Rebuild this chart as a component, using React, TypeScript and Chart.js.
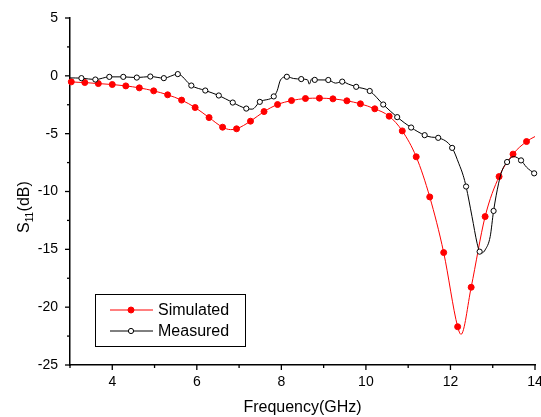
import { useEffect, useRef } from 'react';
import { Chart, registerables } from 'chart.js';

Chart.register(...registerables);

// ---- data ----
const xMin = 3;
const xMax = 14;
const yMin = -25;
const yMax = 5;
const xMajorTicks = [4, 6, 8, 10, 12, 14];
const yMajorTicks = [5, 0, -5, -10, -15, -20, -25];

// Simulated (red, filled markers)
const simulatedFreq = [
  3.03, 3.35, 3.67, 4.0, 4.32, 4.64, 4.98, 5.31, 5.64, 5.96, 6.29, 6.61, 6.94, 7.27, 7.59,
  7.91, 8.24, 8.57, 8.9, 9.22, 9.55, 9.87, 10.21, 10.55, 10.86, 11.19, 11.51, 11.84, 12.17,
  12.49, 12.82, 13.15, 13.48, 13.8,
];
const simulatedDb = [
  -0.52, -0.58, -0.67, -0.75, -0.87, -1.04, -1.3, -1.64, -2.1, -2.74, -3.61, -4.44, -4.58,
  -3.92, -3.09, -2.48, -2.14, -1.96, -1.93, -1.99, -2.16, -2.42, -2.85, -3.49, -4.76, -7.0,
  -10.47, -15.28, -21.69, -18.28, -12.17, -8.71, -6.77, -5.68,
];
// points of the simulated curve between markers
const simulatedCurveFreq = [3.0, 6.8, 12.25, 14.0, 14.14];
const simulatedCurveDb = [-0.5, -4.65, -22.35, -5.25, -5.0];

// Measured (black, open markers)
const measuredFreq = [
  3.27, 3.6, 3.93, 4.26, 4.58, 4.9, 5.22, 5.55, 5.87, 6.2, 6.52, 6.85, 7.17, 7.49, 7.82,
  8.13, 8.47, 8.79, 9.11, 9.44, 9.77, 10.09, 10.41, 10.74, 11.07, 11.39, 11.71, 12.04, 12.37,
  12.69, 13.02, 13.34, 13.67, 13.98,
];
const measuredDb = [
  -0.2, -0.32, -0.09, -0.09, -0.15, -0.06, -0.2, 0.15, -0.84, -1.27, -1.7, -2.31, -2.83,
  -2.25, -1.78, -0.08, -0.28, -0.35, -0.36, -0.5, -0.95, -1.31, -2.48, -3.57, -4.47, -5.13,
  -5.36, -6.23, -9.57, -15.2, -11.68, -7.45, -7.31, -8.43,
];
// points of the measured curve between markers
const measuredCurveFreq = [
  3.0, 7.31, 7.9, 7.98, 8.29, 8.62, 8.66, 8.72, 9.28, 9.59, 11.55, 12.2, 12.3, 12.51, 12.63,
  12.75, 12.82, 12.94, 13.14, 13.22, 13.49, 13.8,
];
const measuredCurveDb = [
  -0.18, -2.88, -1.3, -0.35, -0.23, -0.35, -0.72, -0.25, -0.63, -0.72, -5.3, -7.6, -8.6,
  -12.17, -14.47, -15.3, -15.05, -13.9, -9.28, -8.2, -6.98, -7.9,
];

const seriesNames = ['Simulated', 'Measured'];
const seriesColors = ['#ff0000', '#000000'];

const FONT = '"Liberation Sans", Arial, Helvetica, sans-serif';

type Pt = { x: number; y: number; m: boolean };

function buildCurve(mf: number[], mv: number[], cf: number[], cv: number[]): Pt[] {
  const pts: Pt[] = [];
  mf.forEach((f, i) => pts.push({ x: f, y: mv[i], m: true }));
  cf.forEach((f, i) => pts.push({ x: f, y: cv[i], m: false }));
  pts.sort((a, b) => a.x - b.x);
  return pts;
}

const decorPlugin = {
  id: 'decor',
  afterDraw(chart: any) {
    const ctx = chart.ctx as CanvasRenderingContext2D;
    const xs = chart.scales.x;
    const ys = chart.scales.y;
    const area = chart.chartArea;
    ctx.save();
    ctx.strokeStyle = '#000';
    ctx.lineWidth = 1.3;
    // x tick marks (outward)
    for (let v = xMin; v <= xMax; v += 1) {
      const px = xs.getPixelForValue(v);
      const len = xMajorTicks.includes(v) ? 5 : 3;
      ctx.beginPath();
      ctx.moveTo(px, area.bottom);
      ctx.lineTo(px, area.bottom + len);
      ctx.stroke();
    }
    // y tick marks (outward)
    for (let v = yMin; v <= yMax; v += 2.5) {
      const py = ys.getPixelForValue(v);
      const len = yMajorTicks.includes(v) ? 5 : 3;
      ctx.beginPath();
      ctx.moveTo(area.left, py);
      ctx.lineTo(area.left - len, py);
      ctx.stroke();
    }

    // y axis title S11(dB) with subscript
    ctx.fillStyle = '#000';
    ctx.translate(28.5, 233);
    ctx.rotate(-Math.PI / 2);
    ctx.textAlign = 'left';
    ctx.textBaseline = 'alphabetic';
    ctx.font = `16px ${FONT}`;
    ctx.fillText('S', 0, 0);
    let w = ctx.measureText('S').width;
    ctx.font = `10px ${FONT}`;
    ctx.fillText('11', w, 4);
    w += ctx.measureText('11').width;
    ctx.font = `16px ${FONT}`;
    ctx.fillText('(dB)', w + 0.5, 0);
    ctx.restore();

    // legend box inside plot
    ctx.save();
    ctx.strokeStyle = '#000';
    ctx.lineWidth = 1;
    ctx.strokeRect(95.5, 294.5, 150, 52);
    const rows = [310, 331];
    seriesNames.forEach((name, i) => {
      const y = rows[i];
      ctx.strokeStyle = seriesColors[i];
      ctx.lineWidth = 1;
      ctx.beginPath();
      ctx.moveTo(110, y);
      ctx.lineTo(153, y);
      ctx.stroke();
      ctx.beginPath();
      ctx.arc(131, y, i === 0 ? 3 : 2.6, 0, Math.PI * 2);
      ctx.fillStyle = i === 0 ? seriesColors[0] : '#ffffff';
      ctx.fill();
      ctx.strokeStyle = seriesColors[i];
      ctx.stroke();
      ctx.fillStyle = '#000';
      ctx.font = `16px ${FONT}`;
      ctx.textAlign = 'left';
      ctx.textBaseline = 'middle';
      ctx.fillText(name, 158, y + 1);
    });
    ctx.restore();
  },
};

export default function App() {
  const ref = useRef<HTMLCanvasElement | null>(null);

  useEffect(() => {
    if (!ref.current) return;
    const sim = buildCurve(simulatedFreq, simulatedDb, simulatedCurveFreq, simulatedCurveDb);
    const meas = buildCurve(measuredFreq, measuredDb, measuredCurveFreq, measuredCurveDb);

    const chart = new Chart(ref.current, {
      type: 'line',
      data: {
        datasets: [
          {
            label: seriesNames[1],
            data: meas as any,
            borderColor: seriesColors[1],
            borderWidth: 1,
            cubicInterpolationMode: 'monotone',
            pointRadius: (c: any) => (c.raw && c.raw.m ? 2.6 : 0),
            pointBackgroundColor: '#ffffff',
            pointBorderColor: seriesColors[1],
            pointBorderWidth: 1,
            clip: false as any,
          },
          {
            label: seriesNames[0],
            data: sim as any,
            borderColor: seriesColors[0],
            borderWidth: 1,
            cubicInterpolationMode: 'monotone',
            pointRadius: (c: any) => (c.raw && c.raw.m ? 3 : 0),
            pointBackgroundColor: seriesColors[0],
            pointBorderColor: seriesColors[0],
            pointBorderWidth: 1,
            clip: false as any,
          },
        ],
      },
      options: {
        responsive: false,
        animation: false,
        parsing: false,
        layout: { padding: { top: 18, right: 6, left: 0, bottom: 0 } },
        plugins: { legend: { display: false }, tooltip: { enabled: false } },
        scales: {
          x: {
            type: 'linear',
            min: xMin,
            max: xMax,
            grid: { display: false, drawTicks: false },
            border: { display: true, color: '#000', width: 1.5 },
            ticks: {
              stepSize: 1,
              autoSkip: false,
              maxRotation: 0,
              padding: 9,
              color: '#000',
              font: { family: FONT, size: 14 },
              callback: (v: any) => (xMajorTicks.includes(Number(v)) ? String(v) : ''),
            },
            title: {
              display: true,
              text: 'Frequency(GHz)',
              color: '#000',
              font: { family: FONT, size: 16 },
              padding: { top: 0, bottom: 0 },
            },
            afterFit: (s: any) => {
              s.height = 52;
              s.paddingLeft = 0;
              s.paddingRight = 0;
            },
          },
          y: {
            type: 'linear',
            min: yMin,
            max: yMax,
            grid: { display: false, drawTicks: false },
            border: { display: true, color: '#000', width: 1.5 },
            ticks: {
              stepSize: 2.5,
              autoSkip: false,
              padding: 12,
              color: '#000',
              font: { family: FONT, size: 14 },
              callback: (v: any) => (yMajorTicks.includes(Number(v)) ? String(v) : ''),
            },
            afterFit: (s: any) => {
              s.width = 70;
              s.paddingTop = 0;
              s.paddingBottom = 0;
            },
          },
        },
      },
      plugins: [decorPlugin],
    });
    return () => chart.destroy();
  }, []);

  return (
    <div style={{ position: 'absolute', left: 0, top: 0, width: 541, height: 417, background: '#fff' }}>
      <canvas ref={ref} width={541} height={417} style={{ display: 'block' }} />
    </div>
  );
}
